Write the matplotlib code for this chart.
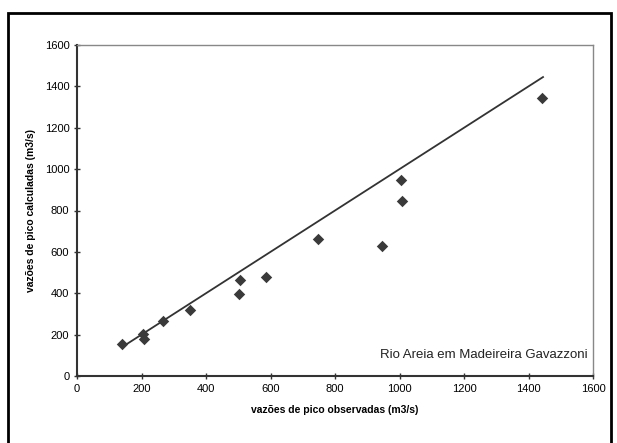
import matplotlib
matplotlib.use("Agg")
import matplotlib.pyplot as plt
from matplotlib.patches import Rectangle

plt.rcParams['font.family'] = ['Liberation Sans', 'DejaVu Sans']

# Data
observed = [139, 206, 209, 266, 349, 504, 502, 587, 748, 947, 1006, 1007, 1443]
calculated = [156, 204, 180, 267, 321, 465, 396, 477, 664, 628, 947, 846, 1343]
line_x = [145, 1445]
line_y = [145, 1445]
ticks = [0, 200, 400, 600, 800, 1000, 1200, 1400, 1600]
xlabel = "vazões de pico observadas (m3/s)"
ylabel = "vazões de pico calculadas (m3/s)"
note = "Rio Areia em Madeireira Gavazzoni"

W, H = 617, 443
fig = plt.figure(figsize=(W/100, H/100), dpi=100)
# outer frame (bottom cut off)
fig.patches.append(Rectangle((8/W, -0.05), (611-8)/W, 1.05 - 13/H, transform=fig.transFigure,
                             fill=False, edgecolor='black', linewidth=2))

ax = fig.add_axes([77/W, 1-376/H, (593-77)/W, (376-45)/H])
ax.plot(line_x, line_y, color='#333333', linewidth=1.3, zorder=2)
ax.scatter(observed, calculated, marker='D', s=34, color='#3a3a3a', zorder=3, linewidths=0)

ax.set_xlim(0, 1600)
ax.set_ylim(0, 1600)
ax.set_xticks(ticks)
ax.set_yticks(ticks)
ax.tick_params(direction='inout', length=5, width=1, labelsize=8, color='#333333', pad=3)
for s in ['left', 'bottom']:
    ax.spines[s].set_color('#333333')
    ax.spines[s].set_linewidth(1.5)
for s in ['top', 'right']:
    ax.spines[s].set_color('#888888')
    ax.spines[s].set_linewidth(1)

ax.set_xlabel(xlabel, fontsize=7.5, fontweight='bold', labelpad=8)
ax.set_ylabel(ylabel, fontsize=7.5, fontweight='bold', labelpad=6)
ax.text(0.99, 0.045, note, transform=ax.transAxes, ha='right', va='bottom', fontsize=9.5, color='#222222')

fig.savefig("out.png", dpi=100)
